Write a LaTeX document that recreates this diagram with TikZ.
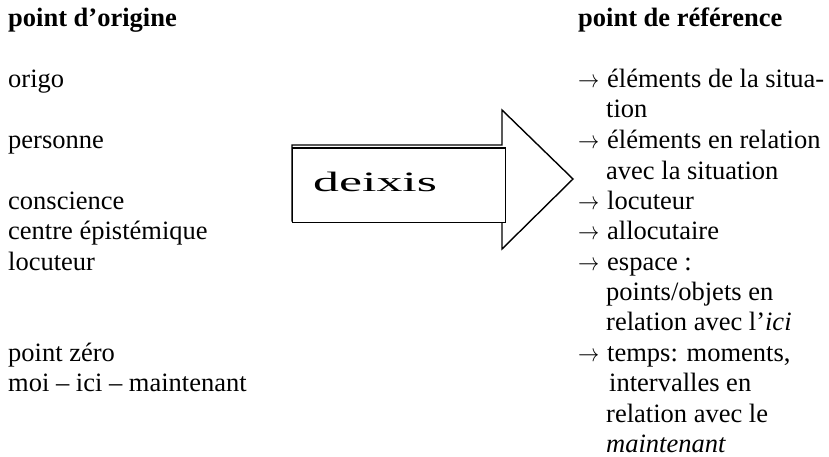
\documentclass[tikz,border=0pt]{standalone}
\usepackage{fontspec}
\setmainfont{Liberation Serif}
\newcommand{\toarr}{\makebox[29pt][l]{\scalebox{0.85}[1]{$\rightarrow$}}}
\begin{document}
\begin{tikzpicture}[x=1pt,y=-1pt,
  txt/.style={anchor=base west, inner sep=0pt, font=\fontsize{26.5}{30.5}\selectfont},
  head/.style={txt, font=\fontsize{26.5}{30.5}\selectfont\bfseries},
  outline/.style={draw=black, line width=1.4pt, line join=miter}]
\useasboundingbox (0,0) rectangle (829,457);
% left column
\node[head] (l0) at (8,27) {point d’origine};
\node[txt] (l1) at (8,88) {origo};
\node[txt] (l2) at (8,148.5) {personne};
\node[txt] (l3) at (8,209) {conscience};
\node[txt] (l4) at (8,239.5) {centre épistémique};
\node[txt] (l5) at (8,270) {locuteur};
\node[txt] (l6) at (8,361) {point zéro};
\node[txt] (l7) at (8,391.5) {moi – ici – maintenant};
% right column
\node[head] (r0) at (578,27) {point de référence};
\node[txt] (r1) at (578,88) {\toarr éléments de la situa-};
\node[txt] (r2) at (606,118) {tion};
\node[txt] (r3) at (578,148.5) {\toarr éléments en relation};
\node[txt] (r4) at (606,179) {avec la situation};
\node[txt] (r5) at (578,209) {\toarr locuteur};
\node[txt] (r6) at (578,239.5) {\toarr allocutaire};
\node[txt] (r7) at (578,270) {\toarr espace :};
\node[txt] (r8) at (606,300) {points/objets en};
\node[txt] (r9) at (606,330.5) {relation avec l’\textit{ici}};
\node[txt] (r10) at (578,361) {\toarr temps: moments,};
\node[txt] (r11) at (609,391.5) {intervalles en};
\node[txt] (r12) at (606,422) {relation avec le};
\node[txt] (r13) at (606,452) {\textit{maintenant}};
% block arrow
\draw[outline] (292,145) -- (502,145) -- (502,110) -- (573,179) -- (502,249) -- (502,221) -- (292,221) -- cycle;
\node[outline, fill=white, anchor=north west, minimum width=213pt, minimum height=74pt, inner sep=0pt] (box) at (292,147.5) {};
\node[anchor=base west, inner sep=0pt, font=\fontsize{28}{30}\selectfont] (deixis) at (313,192) {\scalebox{1.85}[1]{deixis}};
\end{tikzpicture}
\end{document}
